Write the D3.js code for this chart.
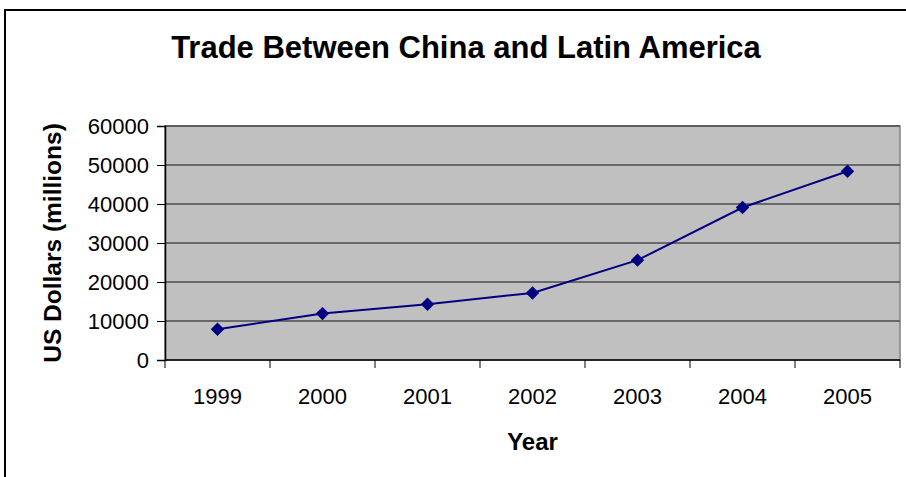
<!DOCTYPE html>
<html>
<head>
<meta charset="utf-8">
<script src="https://cdn.jsdelivr.net/npm/d3@7"></script>
<style>
  html, body { margin: 0; padding: 0; background: #fff; }
  svg { display: block; font-family: "Liberation Sans", Arial, sans-serif; }
</style>
</head>
<body>
<svg id="chart" width="906" height="477"></svg>
<script>
// Trade between China and Latin America, US$ millions
const years = ["1999", "2000", "2001", "2002", "2003", "2004", "2005"];
const tradeValues = [7900, 11900, 14300, 17200, 25600, 39100, 48400];
const yTicks = [0, 10000, 20000, 30000, 40000, 50000, 60000];

const svg = d3.select("#chart");
const plot = { left: 165, right: 900, top: 126, bottom: 360 };

// outer chart frame
svg.append("rect")
  .attr("x", 5).attr("y", 10)
  .attr("width", 920).attr("height", 490)
  .attr("fill", "#fff").attr("stroke", "#000").attr("stroke-width", 2);

const x = d3.scaleBand().domain(years).range([plot.left, plot.right]).padding(0);
const y = d3.scaleLinear().domain([0, 60000]).range([plot.bottom, plot.top]);

// plot area background
svg.append("rect")
  .attr("x", plot.left).attr("y", plot.top)
  .attr("width", plot.right - plot.left).attr("height", plot.bottom - plot.top)
  .attr("fill", "#c0c0c0").attr("stroke", "#808080").attr("stroke-width", 1.5);

// horizontal gridlines
svg.append("g").selectAll("line")
  .data(yTicks.filter(d => d > 0))
  .join("line")
  .attr("x1", plot.left).attr("x2", plot.right)
  .attr("y1", d => y(d)).attr("y2", d => y(d))
  .attr("stroke", "#4d4d4d").attr("stroke-width", 1.5);

// y axis
const yAxis = svg.append("g")
  .attr("transform", `translate(${plot.left},0)`)
  .call(d3.axisLeft(y).tickValues(yTicks).tickSize(8).tickPadding(8).tickFormat(d3.format("d")));
yAxis.select(".domain").attr("stroke", "#000").attr("stroke-width", 1.5);
yAxis.selectAll(".tick line").attr("stroke", "#000").attr("stroke-width", 1);
yAxis.selectAll(".tick text")
  .attr("font-size", 22).attr("fill", "#000")
  .attr("font-family", "Liberation Sans, Arial, sans-serif");

// x axis: labels centred in bands, ticks on band boundaries
const xAxis = svg.append("g")
  .attr("transform", `translate(0,${plot.bottom})`)
  .call(d3.axisBottom(x).tickSize(0).tickPadding(28));
xAxis.select(".domain").remove();
xAxis.selectAll(".tick text")
  .attr("font-size", 22).attr("fill", "#000")
  .attr("font-family", "Liberation Sans, Arial, sans-serif");

const bounds = years.map(d => x(d)).concat([x.range()[1]]);
svg.append("g").selectAll("line")
  .data(bounds)
  .join("line")
  .attr("x1", d => d).attr("x2", d => d)
  .attr("y1", plot.bottom).attr("y2", plot.bottom + 8)
  .attr("stroke", "#000").attr("stroke-width", 1);
svg.append("line")
  .attr("x1", plot.left).attr("x2", plot.right)
  .attr("y1", plot.bottom).attr("y2", plot.bottom)
  .attr("stroke", "#000").attr("stroke-width", 1.5);

// series line
const cx = d => x(d) + x.bandwidth() / 2;
svg.append("path")
  .datum(years.map((yr, i) => [yr, tradeValues[i]]))
  .attr("fill", "none").attr("stroke", "#000080").attr("stroke-width", 2)
  .attr("d", d3.line().x(d => cx(d[0])).y(d => y(d[1])));

// diamond markers
svg.append("g").selectAll("path")
  .data(years.map((yr, i) => [yr, tradeValues[i]]))
  .join("path")
  .attr("transform", d => `translate(${cx(d[0])},${y(d[1])}) rotate(45)`)
  .attr("d", d3.symbol(d3.symbolSquare, 90))
  .attr("fill", "#000080");

// title and axis titles
svg.append("text")
  .attr("x", 466).attr("y", 58)
  .attr("text-anchor", "middle")
  .attr("font-size", 31).attr("font-weight", "bold")
  .text("Trade Between China and Latin America");

svg.append("text")
  .attr("x", (plot.left + plot.right) / 2).attr("y", 450)
  .attr("text-anchor", "middle")
  .attr("font-size", 24).attr("font-weight", "bold")
  .text("Year");

svg.append("text")
  .attr("transform", `translate(61,${(plot.top + plot.bottom) / 2}) rotate(-90)`)
  .attr("text-anchor", "middle")
  .attr("font-size", 24.5).attr("font-weight", "bold")
  .text("US Dollars (millions)");
</script>
</body>
</html>
